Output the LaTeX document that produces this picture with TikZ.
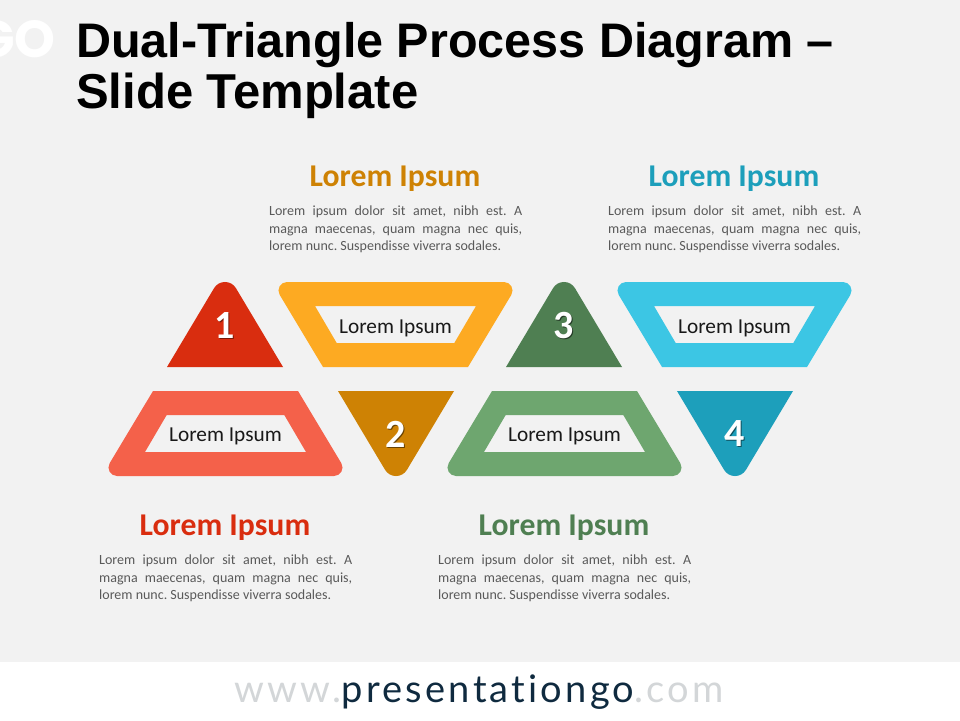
\documentclass[tikz,border=0pt]{standalone}
\usepackage{fontspec}
\setmainfont{Carlito}
\newfontfamily\titlefont{Liberation Sans}
\newfontfamily\logofont{Poppins}
\newfontfamily\webfont[LetterSpace=8.5,Ligatures=NoCommon]{Lato}
\definecolor{bgc}{HTML}{F2F2F2}
\definecolor{cRed}{HTML}{D92D0F}
\definecolor{cCoral}{HTML}{F4614A}
\definecolor{cOrange}{HTML}{CE8204}
\definecolor{cAmber}{HTML}{FDAA22}
\definecolor{cDGreen}{HTML}{4F7F52}
\definecolor{cLGreen}{HTML}{6EA66F}
\definecolor{cTeal}{HTML}{1D9FBB}
\definecolor{cCyan}{HTML}{3CC6E4}
\definecolor{cBody}{HTML}{595959}
\definecolor{cWebDark}{HTML}{0F2A3F}
\definecolor{cWebLight}{HTML}{D3D6D8}
\tikzset{
  x=1pt,y=-1pt,
  head/.style={font=\bfseries\fontsize{31.7}{34}\selectfont,anchor=center,inner sep=0pt},
  bodytext/.style={font=\fontsize{14}{17.5}\selectfont\frenchspacing,text=cBody,text width=253pt,align=justify,anchor=north west,inner sep=0pt},
  inlabel/.style={font=\fontsize{21.3}{24}\selectfont,text=black!90,inner sep=0pt},
  numlabel/.style={font=\bfseries\fontsize{40}{44}\selectfont,text=white,inner sep=0pt},
  numshadow/.style={font=\bfseries\fontsize{40}{44}\selectfont,inner sep=0pt},
}
\newcommand{\TriUp}[2]{\fill[#2,shift={(#1,0)}] (-58,367) -- (-10.97,288.2) .. controls (-6,279.9) and (6,279.9) .. (10.97,288.2) -- (58,367) -- cycle;}
\newcommand{\TriDown}[2]{\fill[#2,shift={(#1,0)}] (-58,391) -- (-10.97,469.8) .. controls (-6,478.1) and (6,478.1) .. (10.97,469.8) -- (58,391) -- cycle;}
\newcommand{\TrapDown}[2]{\fill[#2,even odd rule,shift={(#1,0)}] (-72.5,367) -- (-115.8,294.9) .. controls (-119.2,289.2) and (-115.1,282) .. (-108.5,282) -- (108.5,282) .. controls (115.1,282) and (119.2,289.2) .. (115.8,294.9) -- (72.5,367) -- cycle
  (-80.5,306) -- (80.5,306) -- (58.8,343) -- (-58.8,343) -- cycle;}
\newcommand{\TrapUp}[2]{\fill[#2,even odd rule,shift={(#1,0)}] (-72.5,391) -- (-115.8,463.1) .. controls (-119.2,468.8) and (-115.1,476) .. (-108.5,476) -- (108.5,476) .. controls (115.1,476) and (119.2,468.8) .. (115.8,463.1) -- (72.5,391) -- cycle
  (-58.8,415) -- (58.8,415) -- (80.5,452) -- (-80.5,452) -- cycle;}
\newcommand{\BodyText}{Lorem ipsum dolor sit amet, nibh est. A\linebreak magna maecenas, quam magna nec quis,\linebreak lorem nunc. Suspendisse viverra sodales.}
\begin{document}
\begin{tikzpicture}
\useasboundingbox (0,0) rectangle (960,720);
\clip (0,0) rectangle (960,720);
\fill[bgc] (0,0) rectangle (960,662);
\fill[white] (0,662) rectangle (960,720);
% logo fragment
\node[anchor=east,text=white,inner sep=0pt,font=\logofont\fontsize{52}{52}\selectfont\bfseries] (logo) at (56,39) {GO};
% title
\node[anchor=north west,inner sep=0pt,align=left,font=\titlefont\bfseries\fontsize{48.5}{51}\selectfont] (title) at (76,22.5) {Dual-Triangle Process Diagram –\\{\fontsize{49}{51}\selectfont Slide Template}};
% shapes
\TriUp{225}{cRed}
\TrapDown{395.5}{cAmber}
\TriUp{564}{cDGreen}
\TrapDown{734.5}{cCyan}
\TrapUp{225.5}{cCoral}
\TriDown{396}{cOrange}
\TrapUp{564.5}{cLGreen}
\TriDown{735}{cTeal}
% inner labels
\node[inlabel] (l1) at (395.5,328) {Lorem Ipsum};
\node[inlabel] (l3) at (734.5,328) {Lorem Ipsum};
\node[inlabel] (l2) at (225.5,436) {Lorem Ipsum};
\node[inlabel] (l4) at (564.5,436) {Lorem Ipsum};
% numbers
\node[numshadow,text=cRed!55!black] (n1s) at (226,326.5) {1};
\node[numlabel] (n1) at (225,325.5) {1};
\node[numshadow,text=cOrange!50!black] (n2s) at (397,435) {2};
\node[numlabel] (n2) at (396,434) {2};
\node[numshadow,text=cDGreen!45!black] (n3s) at (565,326.5) {3};
\node[numlabel] (n3) at (564,325.5) {3};
\node[numshadow,text=cTeal!50!black] (n4s) at (736,435) {4};
\node[numlabel] (n4) at (735,434) {4};
% headings
\node[head,text=cOrange] (h1) at (395,178.5) {Lorem Ipsum};
\node[head,text=cTeal] (h3) at (734,178.5) {Lorem Ipsum};
\node[head,text=cRed] (h2) at (225,527.5) {Lorem Ipsum};
\node[head,text=cDGreen] (h4) at (564,527.5) {Lorem Ipsum};
% bodies
\node[bodytext] (b1) at (269,206) {\BodyText};
\node[bodytext] (b3) at (608,206) {\BodyText};
\node[bodytext] (b2) at (99,555) {\BodyText};
\node[bodytext] (b4) at (438,555) {\BodyText};
% footer
\node[inner sep=0pt,font=\webfont\fontsize{38}{40}\selectfont] (web) at (479,692) {\textcolor{cWebLight}{www.}\textcolor{cWebDark}{presentationgo}\textcolor{cWebLight}{.com}};
\end{tikzpicture}
\end{document}
